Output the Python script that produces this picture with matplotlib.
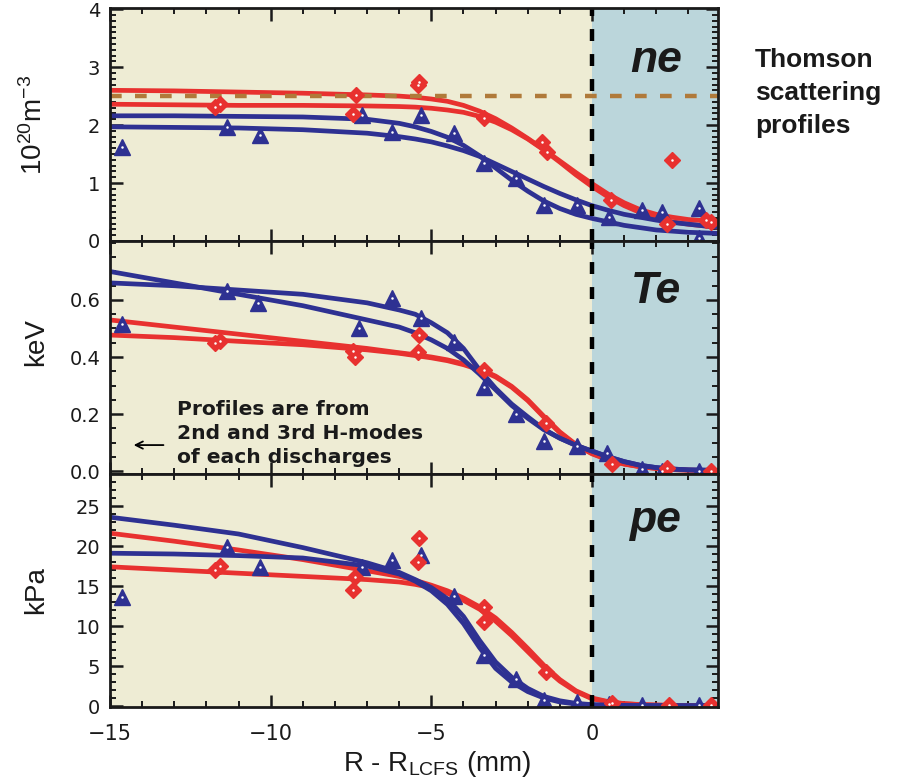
import matplotlib.pyplot as plt
from matplotlib.ticker import MultipleLocator, FixedLocator, FormatStrFormatter

plt.rcParams['font.family'] = 'DejaVu Sans'
plt.rcParams['mathtext.fontset'] = 'custom'
plt.rcParams['mathtext.rm'] = 'Liberation Sans'
plt.rcParams['mathtext.it'] = 'Liberation Sans:italic'
plt.rcParams['lines.scale_dashes'] = False

RED = '#E8312F'
BLUE = '#2E3192'
BEIGE = '#EEECD4'
SOL = '#BBD6DB'
BROWN = '#B07A3A'

# R - R_LCFS (mm) grid of the fitted profiles
r_fit = [-15, -13, -11, -9, -7, -6, -5.5, -5, -4.5, -4, -3.5, -3, -2.5, -2,
         -1.5, -1, -0.5, 0, 0.5, 1, 1.5, 2, 2.5, 3, 3.5, 3.92]

# ne fits (10^20 m^-3)
ne_fit_red1 = [2.60, 2.59, 2.57, 2.55, 2.52, 2.50, 2.48, 2.45, 2.41, 2.34, 2.24, 2.11, 1.95,
               1.77, 1.58, 1.38, 1.18, 0.99, 0.81, 0.66, 0.54, 0.46, 0.41, 0.37, 0.35, 0.33]
ne_fit_red2 = [2.36, 2.35, 2.34, 2.34, 2.33, 2.32, 2.31, 2.29, 2.26, 2.22, 2.15, 2.05, 1.92,
               1.76, 1.57, 1.36, 1.14, 0.94, 0.76, 0.61, 0.49, 0.40, 0.33, 0.29, 0.26, 0.24]
ne_fit_blue1 = [2.16, 2.16, 2.15, 2.14, 2.10, 2.03, 1.97, 1.89, 1.79, 1.65, 1.47, 1.26, 1.05,
                0.86, 0.69, 0.56, 0.46, 0.39, 0.33, 0.27, 0.23, 0.19, 0.17, 0.15, 0.14, 0.13]
ne_fit_blue2 = [1.97, 1.96, 1.95, 1.92, 1.86, 1.80, 1.76, 1.71, 1.64, 1.56, 1.46, 1.33, 1.20,
                1.07, 0.94, 0.82, 0.71, 0.61, 0.53, 0.46, 0.41, 0.36, 0.32, 0.29, 0.26, 0.24]

# Te fits (keV)
te_fit_red1 = [0.530, 0.505, 0.480, 0.455, 0.430, 0.415, 0.408, 0.400, 0.390, 0.376, 0.358, 0.333, 0.297,
               0.250, 0.192, 0.137, 0.093, 0.062, 0.040, 0.025, 0.015, 0.009, 0.005, 0.003, 0.002, 0.001]
te_fit_red2 = [0.477, 0.468, 0.455, 0.443, 0.425, 0.413, 0.405, 0.397, 0.387, 0.373, 0.355, 0.330, 0.294,
               0.247, 0.189, 0.134, 0.091, 0.060, 0.039, 0.024, 0.015, 0.009, 0.005, 0.003, 0.002, 0.001]
te_fit_blue1 = [0.700, 0.660, 0.620, 0.580, 0.530, 0.505, 0.485, 0.460, 0.430, 0.390, 0.340, 0.285, 0.230,
                0.185, 0.145, 0.115, 0.090, 0.070, 0.050, 0.033, 0.020, 0.012, 0.007, 0.004, 0.003, 0.002]
te_fit_blue2 = [0.660, 0.650, 0.635, 0.620, 0.590, 0.565, 0.550, 0.520, 0.485, 0.430, 0.355, 0.290, 0.235,
                0.190, 0.147, 0.115, 0.090, 0.070, 0.050, 0.033, 0.020, 0.012, 0.007, 0.004, 0.003, 0.002]

# pe fits (kPa)
pe_fit_red1 = [21.6, 20.6, 19.5, 18.3, 16.9, 16.2, 15.7, 15.1, 14.4, 13.5, 12.4, 11.0, 9.2,
               7.2, 5.1, 3.3, 1.9, 1.0, 0.55, 0.30, 0.18, 0.12, 0.08, 0.06, 0.05, 0.05]
pe_fit_red2 = [17.4, 17.0, 16.6, 16.2, 15.8, 15.5, 15.2, 14.8, 14.1, 13.2, 12.1, 10.6, 8.8,
               6.8, 4.8, 3.1, 1.8, 0.9, 0.50, 0.28, 0.17, 0.11, 0.08, 0.06, 0.05, 0.05]
pe_fit_blue1 = [23.6, 22.6, 21.5, 19.8, 17.9, 16.7, 15.8, 14.8, 13.4, 11.2, 8.2, 5.5, 3.6,
                2.2, 1.2, 0.65, 0.33, 0.17, 0.10, 0.07, 0.05, 0.05, 0.04, 0.04, 0.03, 0.03]
pe_fit_blue2 = [19.1, 19.0, 18.8, 18.5, 17.5, 16.5, 15.6, 14.4, 12.7, 10.3, 7.3, 4.7, 3.0,
                1.8, 1.0, 0.50, 0.25, 0.12, 0.08, 0.06, 0.05, 0.04, 0.04, 0.03, 0.03, 0.03]

# measured points: red diamonds and blue triangles
ne_red_r = [-11.74, -11.58, -7.33, -7.45, -5.43, -5.37, -3.35, -1.55, -1.40, 0.60, 2.48, 2.33, 3.55, 3.70]
ne_red_v = [2.31, 2.36, 2.52, 2.19, 2.70, 2.74, 2.12, 1.70, 1.53, 0.71, 1.40, 0.29, 0.36, 0.33]
ne_blue_r = [-14.63, -11.37, -10.34, -7.17, -6.24, -5.31, -4.29, -3.35, -2.36, -1.49, -0.47,
             0.53, 1.55, 2.17, 3.32, 3.32]
ne_blue_v = [1.62, 1.97, 1.83, 2.17, 1.88, 2.17, 1.86, 1.34, 1.09, 0.62, 0.62,
             0.42, 0.53, 0.50, 0.57, 0.05]

te_red_r = [-11.74, -11.58, -7.39, -7.45, -5.37, -5.43, -3.35, -1.43, 0.63, 2.33, 3.70]
te_red_v = [0.450, 0.456, 0.400, 0.420, 0.477, 0.418, 0.355, 0.167, 0.024, 0.010, 0.000]
te_blue_r = [-14.63, -11.37, -10.40, -7.24, -6.24, -5.31, -4.29, -3.35, -2.36, -1.49, -0.47,
             0.47, 1.55, 2.17, 3.32]
te_blue_v = [0.516, 0.630, 0.590, 0.500, 0.606, 0.536, 0.453, 0.296, 0.200, 0.105, 0.087,
             0.063, 0.007, 0.000, 0.000]

pe_red_r = [-11.74, -11.58, -7.39, -7.45, -5.37, -5.43, -3.35, -3.35, -1.43, 0.63, 2.40, 3.70]
pe_red_v = [17.0, 17.5, 16.1, 14.5, 21.0, 18.0, 12.4, 10.5, 4.25, 0.35, 0.10, 0.10]
pe_blue_r = [-14.63, -11.37, -10.34, -7.17, -6.24, -5.31, -4.29, -3.35, -2.36, -1.49, -0.47,
             0.53, 1.55, 3.32]
pe_blue_v = [13.6, 19.9, 17.4, 17.4, 18.2, 18.9, 13.75, 6.4, 3.4, 0.75, 0.5,
             0.2, 0.1, 0.1]

ne_ticks = [0, 1, 2, 3, 4]
te_ticks = [0.0, 0.2, 0.4, 0.6]
pe_ticks = [0, 5, 10, 15, 20, 25]

panels = [
    dict(red=(ne_fit_red1, ne_fit_red2), blue=(ne_fit_blue1, ne_fit_blue2),
         pts_red=(ne_red_r, ne_red_v), pts_blue=(ne_blue_r, ne_blue_v),
         ylim=(0, 4.02), ticks=ne_ticks, minor=0.1, fmt='%d', name='ne', name_y=2.91),
    dict(red=(te_fit_red1, te_fit_red2), blue=(te_fit_blue1, te_fit_blue2),
         pts_red=(te_red_r, te_red_v), pts_blue=(te_blue_r, te_blue_v),
         ylim=(-0.0105, 0.807), ticks=te_ticks, minor=0.05, fmt='%.1f', name='Te', name_y=0.59),
    dict(red=(pe_fit_red1, pe_fit_red2), blue=(pe_fit_blue1, pe_fit_blue2),
         pts_red=(pe_red_r, pe_red_v), pts_blue=(pe_blue_r, pe_blue_v),
         ylim=(-0.125, 29.0), ticks=pe_ticks, minor=1, fmt='%d', name='pe', name_y=21.75),
]

fig = plt.figure(figsize=(8.99, 7.78), dpi=100)
W, H = 899.0, 778.0
tops = [8, 241, 474]
axes = []
for i, p in enumerate(panels):
    top = tops[i]
    ax = fig.add_axes([110 / W, 1 - (top + 233) / H, 608 / W, 233 / H])
    axes.append(ax)
    ax.set_xlim(-15, 3.92)
    ax.set_ylim(*p['ylim'])
    ax.set_facecolor(BEIGE)
    ax.axvspan(0, 3.92, color=SOL, lw=0, zorder=0)

    for yv in p['red']:
        ax.plot(r_fit, yv, color=RED, lw=3.4, solid_joinstyle='round', zorder=2)
    for yv in p['blue']:
        ax.plot(r_fit, yv, color=BLUE, lw=3.4, solid_joinstyle='round', zorder=2)

    rr, rv = p['pts_red']
    br, bv = p['pts_blue']
    ax.plot(br, bv, ls='none', marker='^', ms=11, color=BLUE, mec=BLUE, zorder=4)
    ax.plot(br, bv, ls='none', marker='o', ms=1.8, color='white', mew=0, zorder=5)
    ax.plot(rr, rv, ls='none', marker='D', ms=8, color=RED, mec=RED, zorder=4)
    ax.plot(rr, rv, ls='none', marker='o', ms=1.8, color='white', mew=0, zorder=5)

    ax.axvline(0, color='black', lw=3.2, dashes=(8.6, 9.4), zorder=3)

    ax.text(2.0, p['name_y'], p['name'], ha='center', va='baseline',
            fontsize=32, fontweight='bold', style='italic',
            family='Liberation Sans', color='#1a1a1a', zorder=6)

    ax.xaxis.set_major_locator(MultipleLocator(5))
    ax.xaxis.set_minor_locator(MultipleLocator(1))
    ax.yaxis.set_major_locator(FixedLocator(p['ticks']))
    ax.yaxis.set_minor_locator(MultipleLocator(p['minor']))
    ax.yaxis.set_major_formatter(FormatStrFormatter(p['fmt']))
    ax.tick_params(which='both', direction='in', top=True, right=True,
                   color='#1a1a1a')
    ax.tick_params(which='major', length=9, width=1.8)
    ax.tick_params(which='minor', length=4.5, width=1.4)
    ax.tick_params(axis='y', labelsize=14, pad=7, labelcolor='#1a1a1a')
    ax.tick_params(axis='x', labelsize=15, pad=12, labelcolor='#1a1a1a')
    for s in ax.spines.values():
        s.set_linewidth(2.0)
        s.set_color('#1a1a1a')
        s.set_zorder(7)
    if i < 2:
        ax.tick_params(axis='x', labelbottom=False)

# separatrix density reference line
axes[0].axhline(2.5, color=BROWN, lw=3.2, dashes=(8.4, 9.6), zorder=3)

# note on which H-modes were used
ax_te = axes[1]
note = ['Profiles are from', '2nd and 3rd H-modes', 'of each discharges']
for k, line in enumerate(note):
    ax_te.text(-12.92, 0.196 - k * 0.084, line, fontsize=14.6, fontweight='bold',
               family='DejaVu Sans', color='#1a1a1a', va='baseline', zorder=6)
ax_te.annotate('', xy=(-14.35, 0.091), xytext=(-13.25, 0.091),
               arrowprops=dict(arrowstyle='->', color='black', lw=1.3,
                               mutation_scale=13), zorder=6)

# axis labels
lab = dict(fontsize=20, family='Liberation Sans', color='#1a1a1a')
fig.text(34 / W, 1 - 125 / H, r'10$^{20}$m$^{-3}$', rotation=90, ha='center', va='center', **lab)
fig.text(36 / W, 1 - 342 / H, 'keV', rotation=90, ha='center', va='center', **lab)
fig.text(36 / W, 1 - 590 / H, 'kPa', rotation=90, ha='center', va='center', **lab)
fig.text(437 / W, 1 - 771 / H, r'R - R$_{\rm LCFS}$ (mm)', ha='center', va='baseline', **lab)

for k, line in enumerate(['Thomson', 'scattering', 'profiles']):
    fig.text(755 / W, 1 - (67 + 33 * k) / H, line, fontsize=19, fontweight='bold',
             family='Liberation Sans', color='#1a1a1a', va='baseline')

fig.savefig('out.png', dpi=100)
